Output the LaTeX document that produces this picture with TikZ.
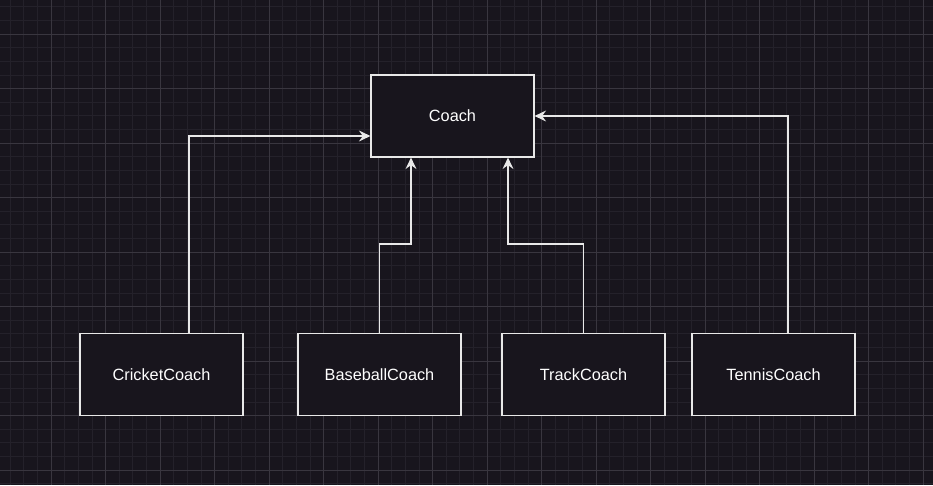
\documentclass[tikz,border=0pt]{standalone}
\usepackage{fontspec}
\setmainfont{Liberation Sans}
\usetikzlibrary{positioning, arrows.meta, calc}
\definecolor{dkbg}{HTML}{18151D}
\definecolor{dkminor}{HTML}{24212A}
\definecolor{dkmajor}{HTML}{39363F}
\definecolor{dkline}{HTML}{E8E8E8}

\begin{document}
\begin{tikzpicture}[x=1pt, y=-1pt, font=\fontsize{16.3}{19}\selectfont,
    classbox/.style={draw=dkline, fill=dkbg, text=white, line width=1.2pt,
          minimum width=163pt, minimum height=82pt, inner sep=0pt},
    extends/.style={draw=dkline, line width=1.2pt,
          -{Stealth[length=11.5pt, width=11pt, inset=4pt]}}]
    % background and grid
    \fill[dkbg] (0,0) rectangle (933,485);
    \useasboundingbox (0,0) rectangle (933,485);
    \foreach \i in {0,...,67}
      \draw[dkminor, line width=0.8pt] ({10.2+13.625*\i},0) -- ++(0,485);
    \foreach \i in {0,...,35}
      \draw[dkminor, line width=0.8pt] (0,{6.8+13.625*\i}) -- ++(933,0);
    \foreach \i in {0,...,16}
      \draw[dkmajor, line width=0.8pt] ({51+54.5*\i},0) -- ++(0,485);
    \foreach \i in {0,...,8}
      \draw[dkmajor, line width=0.8pt] (0,{34+54.5*\i}) -- ++(933,0);

    % classes
    \node[classbox] (coach) at (452.5,116) {Coach};
    \node[classbox] (cricket) at (161.5,374.5) {CricketCoach};
    \node[classbox] (baseball) at (379.5,374.5) {BaseballCoach};
    \node[classbox] (track) at (583.5,374.5) {TrackCoach};
    \node[classbox] (tennis) at (773.5,374.5) {TennisCoach};

    % inheritance
    \draw[extends] ([xshift=27.5pt]cricket.north) |- ([yshift=-20pt]coach.west);
    \draw[extends] (baseball.north) -- ++(0,-89) -| ([xshift=-41.5pt]coach.south);
    \draw[extends] (track.north) -- ++(0,-89) -| ([xshift=55.5pt]coach.south);
    \draw[extends] ([xshift=14.5pt]tennis.north) |- (coach.east);
\end{tikzpicture}
\end{document}
